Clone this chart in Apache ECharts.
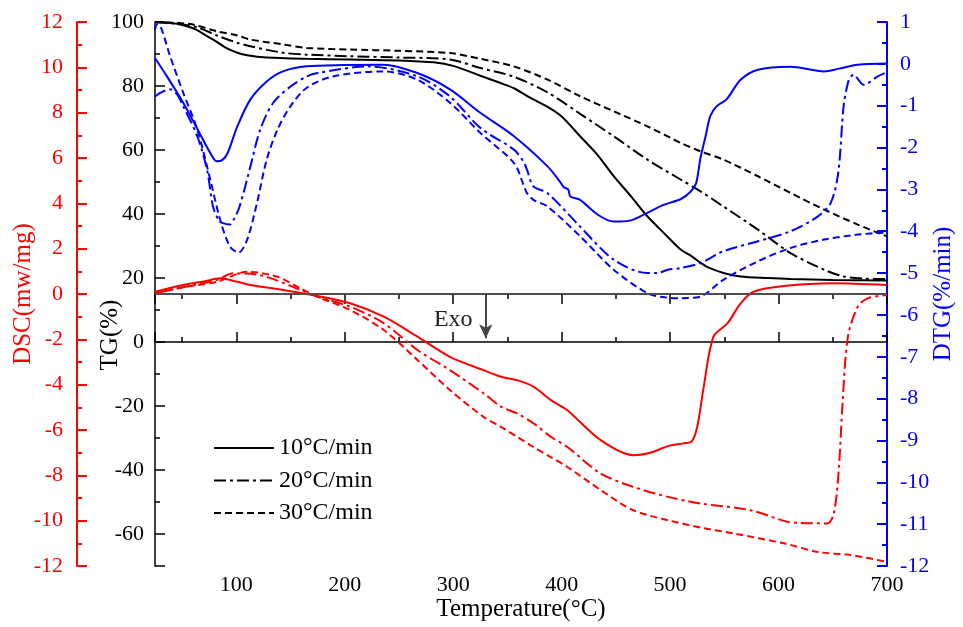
<!DOCTYPE html>
<html>
<head>
<meta charset="utf-8">
<script src="https://cdn.jsdelivr.net/npm/echarts@6/dist/echarts.min.js"></script>
<style>
  html, body { margin: 0; padding: 0; background: #fff; }
  #chart { width: 963px; height: 627px; }
</style>
</head>
<body>
<div id="chart"></div>
<script>
const rates = ['10°C/min', '20°C/min', '30°C/min'];

// TG (%) vs temperature (°C)
const tg10 = [[25,100],[40,99.7],[51,99.0],[62,97.8],[73,95.6],[82,93.8],[90,92.0],[101,90.4],[110,89.6],[128,88.9],[165,88.5],[205,88.3],[250,88.0],[282,87.4],[300,86.3],[325,83.2],[343,81.0],[356,79.3],[370,76.5],[387,73.5],[400,70.5],[417,64.3],[433,58.5],[448,51.8],[464,45.5],[479,39.3],[495,33.8],[510,28.8],[519,27.0],[528,24.8],[535,23.3],[550,21.5],[565,20.5],[590,20.0],[611,19.7],[650,19.4],[700,19.2]];
const tg20 = [[25,100],[51,99.2],[65,98.2],[82,95.8],[100,93.6],[113,92.4],[143,90.4],[165,89.8],[205,89.3],[250,88.9],[297,88.3],[325,85.6],[355,83.0],[387,78.0],[417,71.3],[448,64.3],[479,57.0],[510,50.7],[528,47.1],[549,42.4],[581,35.1],[611,27.8],[642,22.6],[660,20.5],[680,19.8],[700,19.7]];
const tg30 = [[25,100],[45,99.7],[60,99.2],[82,97.1],[101,95.8],[113,94.5],[143,93.0],[165,91.9],[205,91.4],[250,91.0],[297,90.3],[325,88.5],[355,86.2],[387,82.0],[417,76.8],[448,72.1],[479,67.4],[510,62.2],[528,59.6],[549,57.0],[581,51.8],[611,46.6],[642,41.4],[673,36.7],[700,33.0]];

// DTG (%/min)
const dtg10 = [[25,0.14],[36,-0.3],[51,-0.93],[66,-1.65],[76,-2.13],[82,-2.33],[87,-2.3],[92,-2.13],[101,-1.49],[113,-0.85],[128,-0.42],[143,-0.18],[165,-0.06],[200,-0.03],[235,-0.02],[267,-0.22],[297,-0.61],[325,-1.17],[356,-1.73],[387,-2.45],[398,-2.8],[402,-2.95],[406,-3.0],[408,-3.17],[417,-3.25],[433,-3.6],[448,-3.77],[464,-3.74],[479,-3.56],[494,-3.37],[510,-3.23],[519,-3.05],[524,-2.85],[528,-2.25],[533,-1.7],[537,-1.25],[543,-1.01],[552,-0.85],[565,-0.38],[581,-0.14],[611,-0.07],[642,-0.18],[655,-0.12],[673,-0.02],[700,0.01]];
const dtg20 = [[25,-0.78],[30,-0.69],[39,-0.61],[45,-0.72],[51,-1.01],[64,-1.73],[73,-2.53],[78.5,-3.41],[84,-3.75],[87,-3.8],[94,-3.84],[98,-3.7],[103,-3.41],[113,-2.45],[122,-1.57],[134,-0.93],[150,-0.54],[165,-0.3],[175,-0.22],[221,-0.06],[267,-0.3],[297,-0.78],[325,-1.53],[356,-2.05],[365,-2.35],[368,-2.53],[374,-2.93],[387,-3.09],[417,-3.89],[448,-4.68],[479,-5.0],[488,-5.0],[498,-4.92],[510,-4.88],[528,-4.76],[549,-4.48],[581,-4.24],[611,-4.0],[636,-3.65],[648,-3.33],[655,-2.61],[660,-1.01],[664,-0.45],[667,-0.3],[669,-0.26],[678.5,-0.5],[691.5,-0.3],[700,-0.2]];
const dtg30 = [[25,0.82],[27,0.95],[30,0.9],[39,0.18],[51,-0.69],[64,-1.57],[76,-2.77],[85,-3.72],[94,-4.36],[102,-4.51],[110,-4.2],[119,-3.33],[128,-2.29],[138,-1.57],[150,-1.01],[165,-0.57],[189,-0.3],[235,-0.18],[267,-0.38],[297,-0.93],[325,-1.65],[356,-2.37],[365,-2.9],[368,-3.09],[374,-3.25],[387,-3.41],[417,-4.12],[448,-4.92],[479,-5.48],[495,-5.58],[510,-5.6],[528,-5.56],[549,-5.16],[581,-4.72],[611,-4.4],[642,-4.2],[673,-4.08],[700,-4.03]];

// DSC (mw/mg)
const dsc10 = [[25,0.1],[51,0.4],[70,0.55],[85,0.69],[100,0.55],[113,0.4],[143,0.18],[175,-0.09],[205,-0.41],[236,-1.0],[267,-1.88],[297,-2.77],[328,-3.36],[344,-3.65],[359,-3.8],[374,-4.09],[390,-4.68],[405,-5.12],[436,-6.45],[466,-7.11],[482,-7.0],[498,-6.71],[512,-6.59],[520,-6.5],[525,-5.86],[531,-4.09],[540,-1.88],[553,-1.29],[565,-0.41],[577,0.1],[605,0.35],[651,0.47],[700,0.4]];
const dsc20 = [[25,0.03],[51,0.3],[82,0.62],[97,0.91],[110,0.9],[128,0.76],[159,0.18],[175,-0.12],[205,-0.56],[236,-1.29],[267,-2.47],[297,-3.36],[328,-4.38],[344,-4.97],[359,-5.27],[374,-5.71],[390,-6.3],[405,-6.74],[436,-7.92],[466,-8.51],[498,-8.95],[528,-9.24],[574,-9.54],[608,-10.05],[620,-10.1],[645,-10.12],[651,-9.68],[655.5,-7.77],[659,-4.83],[664,-1.88],[673,-0.56],[682,-0.19],[700,-0.04]];
const dsc30 = [[25,0.03],[51,0.3],[82,0.54],[110,0.98],[138,0.76],[159,0.25],[175,-0.12],[205,-0.71],[236,-1.59],[267,-2.91],[297,-4.24],[328,-5.42],[344,-5.86],[359,-6.3],[374,-6.75],[390,-7.2],[405,-7.62],[436,-8.65],[466,-9.54],[498,-9.98],[528,-10.3],[559,-10.57],[605,-11.0],[636,-11.38],[667,-11.52],[700,-11.82]];

const FONT = 'Liberation Serif';
const RED = '#ff0000';
const BLUE = '#0000ff';
const dashDot = [12, 4, 3, 4];
const dashed = [7, 4];
const styles = ['solid', dashDot, dashed];

function line(name, data, color, type, yAxisIndex, extra) {
  return Object.assign({
    name: name,
    type: 'line',
    data: data,
    yAxisIndex: yAxisIndex,
    showSymbol: false,
    symbol: 'none',
    smooth: 0.3,
    lineStyle: { color: color, width: 2, type: type },
    itemStyle: { color: color },
    z: 3
  }, extra || {});
}

function xAx(pos, showLabel) {
  return {
    type: 'value', position: pos, min: 25, max: 700, splitNumber: 7,
    axisLine: { lineStyle: { color: '#000', width: 1.5 } },
    axisTick: { inside: true, length: 10, lineStyle: { color: '#000', width: 1.5 } },
    minorTick: { show: true, splitNumber: 2, length: 5, lineStyle: { color: '#000', width: 1.5 } },
    axisLabel: { show: showLabel, showMinLabel: false, margin: 8, fontFamily: FONT, fontSize: 22, color: '#000' },
    splitLine: { show: false },
    name: showLabel ? 'Temperature(°C)' : '',
    nameLocation: 'middle', nameGap: 31, nameMoveOverlap: false,
    nameTextStyle: { fontFamily: FONT, fontSize: 25, color: '#000' }
  };
}

const chart = echarts.init(document.getElementById('chart'));
chart.setOption({
  backgroundColor: '#fff',
  animation: false,
  grid: { left: 155, right: 76, top: 22, bottom: 61, outerBoundsMode: 'none', containLabel: false },
  legend: {
    data: rates,
    orient: 'vertical',
    left: 208, top: 431,
    itemWidth: 60, itemHeight: 1, itemGap: 8.5,
    textStyle: { fontFamily: FONT, fontSize: 24, color: '#000' }
  },
  xAxis: [xAx('bottom', true), xAx('top', false)],
  yAxis: [
    {
      type: 'value', position: 'left', min: -70, max: 100, splitNumber: 8,
      axisLine: { show: true, lineStyle: { color: '#000', width: 1.5 } },
      axisTick: { inside: true, length: 10, lineStyle: { color: '#000', width: 1.5 } },
      minorTick: { show: true, splitNumber: 2, length: 5, lineStyle: { color: '#000', width: 1.5 } },
      axisLabel: { showMinLabel: false, margin: 11, fontFamily: FONT, fontSize: 22, color: '#000' },
      splitLine: { show: false },
      name: 'TG(%)', nameLocation: 'middle', nameGap: 32, nameRotate: 90, nameMoveOverlap: false,
      nameTextStyle: { fontFamily: FONT, fontSize: 25, color: '#000', padding: [0, 82, 0, 0] }
    },
    {
      type: 'value', position: 'left', offset: 78, min: -12, max: 12, interval: 2,
      axisLine: { show: true, lineStyle: { color: RED, width: 2 } },
      axisTick: { inside: true, length: 10, lineStyle: { color: RED, width: 2 } },
      minorTick: { show: true, splitNumber: 2, length: 5, lineStyle: { color: RED, width: 2 } },
      axisLabel: { margin: 14, fontFamily: FONT, fontSize: 22, color: RED },
      splitLine: { show: false },
      name: 'DSC(mw/mg)', nameLocation: 'middle', nameGap: 41, nameRotate: 90, nameMoveOverlap: false,
      nameTextStyle: { fontFamily: FONT, fontSize: 25, color: RED }
    },
    {
      type: 'value', position: 'right', min: -12, max: 1, interval: 1,
      axisLine: { show: true, lineStyle: { color: BLUE, width: 2 } },
      axisTick: { inside: true, length: 10, lineStyle: { color: BLUE, width: 2 } },
      minorTick: { show: true, splitNumber: 2, length: 5, lineStyle: { color: BLUE, width: 2 } },
      axisLabel: { margin: 13, fontFamily: FONT, fontSize: 22, color: BLUE },
      splitLine: { show: false },
      name: 'DTG(%/min)', nameLocation: 'middle', nameGap: 44, nameRotate: 90, nameMoveOverlap: false,
      nameTextStyle: { fontFamily: FONT, fontSize: 25, color: BLUE }
    }
  ],
  series: [
    line(rates[0], tg10, '#000', styles[0], 0),
    line(rates[1], tg20, '#000', styles[1], 0),
    line(rates[2], tg30, '#000', styles[2], 0),
    line('DTG ' + rates[0], dtg10, BLUE, styles[0], 2),
    line('DTG ' + rates[1], dtg20, BLUE, styles[1], 2),
    line('DTG ' + rates[2], dtg30, BLUE, styles[2], 2),
    line('DSC ' + rates[0], dsc10, RED, styles[0], 1, {
      markLine: {
        silent: true,
        symbol: 'none',
        label: { show: false },
        lineStyle: { color: '#555', width: 1.5, type: 'solid' },
        data: [
          { yAxis: 0 },
          [
            { coord: [330, 0], symbol: 'none', lineStyle: { color: '#444', width: 2 } },
            { coord: [330, -1.95], symbol: 'arrow', symbolSize: [10, 14] }
          ]
        ]
      },
      markPoint: {
        silent: true,
        symbol: 'rect', symbolSize: 0,
        label: { show: true, formatter: 'Exo', fontFamily: FONT, fontSize: 24, color: '#222' },
        data: [{ coord: [300, -1.15] }]
      }
    }),
    line('DSC ' + rates[1], dsc20, RED, styles[1], 1),
    line('DSC ' + rates[2], dsc30, RED, styles[2], 1)
  ]
});
</script>
</body>
</html>
